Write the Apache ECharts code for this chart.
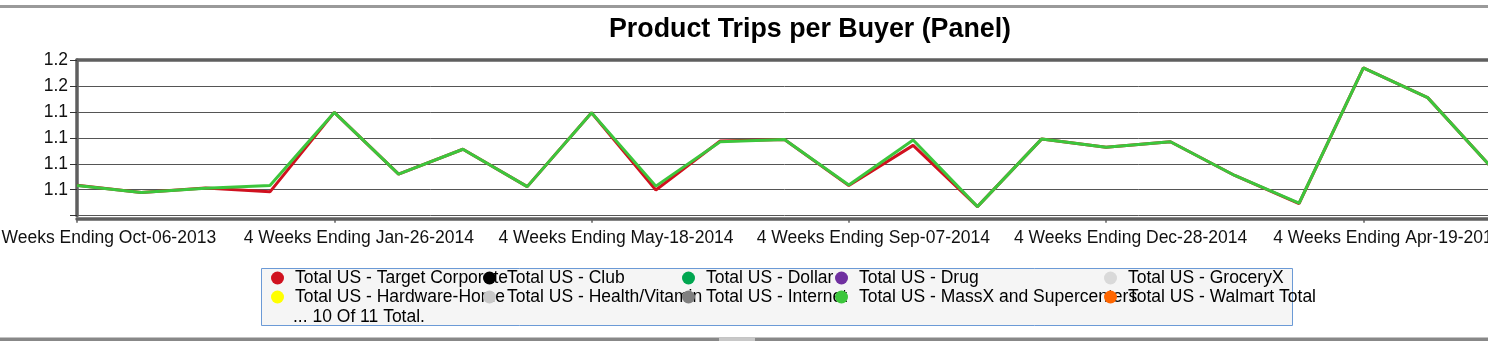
<!DOCTYPE html>
<html>
<head>
<meta charset="utf-8">
<title>Product Trips per Buyer (Panel)</title>
<script src="https://cdn.jsdelivr.net/npm/echarts@6/dist/echarts.min.js"></script>
<style>
  html, body { margin: 0; padding: 0; background: #ffffff; overflow: hidden; }
  #chart { width: 1620px; height: 341px; }
</style>
</head>
<body>
<div id="chart"></div>
<script>
// 4-week periods
const categories = [
  '4 Weeks Ending Oct-06-2013', '4 Weeks Ending Nov-03-2013', '4 Weeks Ending Dec-01-2013',
  '4 Weeks Ending Dec-29-2013', '4 Weeks Ending Jan-26-2014', '4 Weeks Ending Feb-23-2014',
  '4 Weeks Ending Mar-23-2014', '4 Weeks Ending Apr-20-2014', '4 Weeks Ending May-18-2014',
  '4 Weeks Ending Jun-15-2014', '4 Weeks Ending Jul-13-2014', '4 Weeks Ending Aug-10-2014',
  '4 Weeks Ending Sep-07-2014', '4 Weeks Ending Oct-05-2014', '4 Weeks Ending Nov-02-2014',
  '4 Weeks Ending Nov-30-2014', '4 Weeks Ending Dec-28-2014', '4 Weeks Ending Jan-25-2015',
  '4 Weeks Ending Feb-22-2015', '4 Weeks Ending Mar-22-2015', '4 Weeks Ending Apr-19-2015',
  '4 Weeks Ending May-17-2015', '4 Weeks Ending Jun-14-2015'
];

// Product trips per buyer
const targetCorporate = [
  1.1117, 1.1089, 1.1107, 1.1092, 1.1398, 1.1160, 1.1256, 1.1112, 1.1397, 1.1099, 1.1288, 1.1294,
  1.1116, 1.1271, 1.1035, 1.1296, 1.1264, 1.1285, 1.1155, 1.1047, 1.1570, 1.1455, 1.1184
];
const massXSupercenters = [
  1.1116, 1.1089, 1.1106, 1.1116, 1.1398, 1.1160, 1.1256, 1.1112, 1.1397, 1.1114, 1.1285, 1.1294,
  1.1118, 1.1292, 1.1035, 1.1296, 1.1264, 1.1285, 1.1155, 1.1048, 1.1570, 1.1455, 1.1184
];

// Value axis ticks 1.10 .. 1.16, shown with one decimal
const yTickValues = [1.10, 1.11, 1.12, 1.13, 1.14, 1.15, 1.16];
const yTickLabels = ['', '1.1', '1.1', '1.1', '1.1', '1.2', '1.2'];

// Legend entries in display order (column by column)
const seriesNames = [
  'Total US - Target Corporate', 'Total US - Hardware-Home',
  'Total US - Club', 'Total US - Health/Vitamin',
  'Total US - Dollar', 'Total US - Internet',
  'Total US - Drug', 'Total US - MassX and Supercenters',
  'Total US - GroceryX', 'Total US - Walmart Total'
];
const seriesColors = {
  'Total US - Target Corporate': '#d0111f',
  'Total US - Club': '#000000',
  'Total US - Dollar': '#00a650',
  'Total US - Drug': '#7030a0',
  'Total US - GroceryX': '#d9d9d9',
  'Total US - Hardware-Home': '#ffff00',
  'Total US - Health/Vitamin': '#c8c8c8',
  'Total US - Internet': '#808080',
  'Total US - MassX and Supercenters': '#3cc63c',
  'Total US - Walmart Total': '#ff6600'
};
const seriesData = {
  'Total US - Target Corporate': targetCorporate,
  'Total US - MassX and Supercenters': massXSupercenters
};
const legendFooter = '... 10 Of 11 Total.';
const legendColumnsX = [276, 488, 687, 840, 1109];

const FONT = '"Liberation Sans", Arial, Helvetica, sans-serif';
const chart = echarts.init(document.getElementById('chart'), null, { renderer: 'canvas' });

// series order: Target first so MassX is drawn over it
const drawOrder = [
  'Total US - Target Corporate', 'Total US - Club', 'Total US - Dollar', 'Total US - Drug',
  'Total US - GroceryX', 'Total US - Hardware-Home', 'Total US - Health/Vitamin',
  'Total US - Internet', 'Total US - MassX and Supercenters', 'Total US - Walmart Total'
];
const series = drawOrder.map(name => ({
  name: name,
  type: 'line',
  data: seriesData[name] || [],
  symbol: 'none',
  showSymbol: false,
  itemStyle: { color: seriesColors[name] },
  lineStyle: { color: seriesColors[name], width: 3 },
  emphasis: { disabled: true },
  silent: true
}));

const legends = legendColumnsX.map((cx, i) => ({
  orient: 'vertical',
  left: cx - 5,
  top: 268.5,
  padding: 0,
  itemGap: 0,
  itemWidth: 25,
  itemHeight: 13,
  icon: 'circle',
  selectedMode: false,
  data: [seriesNames[i * 2], seriesNames[i * 2 + 1]],
  textStyle: { fontFamily: FONT, fontSize: 17.5, color: '#000', lineHeight: 19, padding: 0 }
}));

chart.setOption({
  animation: false,
  backgroundColor: '#ffffff',
  title: {
    text: 'Product Trips per Buyer (Panel)',
    left: 'center',
    top: 16,
    padding: 0,
    textStyle: { fontFamily: FONT, fontSize: 26.8, fontWeight: 'bold', color: '#000' }
  },
  legend: legends,
  grid: { left: 77, top: 60, right: 128, bottom: 125.3, containLabel: false, outerBoundsMode: 'none' },
  xAxis: [
    {
      type: 'category',
      data: categories,
      boundaryGap: false,
      position: 'bottom',
      offset: 3,
      axisLine: { show: true, lineStyle: { color: '#5f5f5f', width: 3.5 } },
      axisTick: { show: true, interval: 3, length: 4, lineStyle: { color: '#5f5f5f', width: 1.5 } },
      axisLabel: {
        interval: 3,
        margin: 10,
        fontFamily: FONT,
        fontSize: 17.5,
        color: '#111',
        padding: [0, 0, 0, 49]
      },
      splitLine: { show: false }
    },
    {
      type: 'category',
      data: categories,
      boundaryGap: false,
      position: 'top',
      axisLine: { show: true, lineStyle: { color: '#5f5f5f', width: 3.5 } },
      axisTick: { show: false },
      axisLabel: { show: false },
      splitLine: { show: false }
    }
  ],
  yAxis: {
    type: 'value',
    min: yTickValues[0],
    max: yTickValues[yTickValues.length - 1],
    interval: 0.01,
    axisLine: { show: true, lineStyle: { color: '#5f5f5f', width: 3.5 } },
    axisTick: { show: true, length: 7, lineStyle: { color: '#333', width: 1 } },
    axisLabel: {
      margin: 9,
      fontFamily: FONT,
      fontSize: 17.5,
      color: '#111',
      formatter: function (v) {
        const idx = Math.round((v - yTickValues[0]) / 0.01);
        return yTickLabels[idx] !== undefined ? yTickLabels[idx] : '';
      }
    },
    splitLine: { show: true, lineStyle: { color: '#555', width: 1 } }
  },
  graphic: [
    // frame bars
    { type: 'rect', z: 0, shape: { x: 0, y: 5, width: 1620, height: 3 }, style: { fill: '#9a9a9a' } },
    { type: 'rect', z: 0, shape: { x: 0, y: 337.5, width: 1620, height: 4 }, style: { fill: '#888888' } },
    { type: 'rect', z: 1, shape: { x: 719, y: 337.5, width: 36, height: 4 }, style: { fill: '#c8c8c8' } },
    // legend box
    {
      type: 'rect', z: 0,
      shape: { x: 261.5, y: 268.5, width: 1031, height: 57 },
      style: { fill: '#f5f5f5', stroke: '#6b9ad6', lineWidth: 1 }
    },
    {
      type: 'text', z: 5,
      style: {
        x: 293, y: 317, text: legendFooter,
        font: '17.5px ' + FONT, fill: '#000',
        textVerticalAlign: 'middle', verticalAlign: 'middle'
      }
    }
  ],
  series: series
});
</script>
</body>
</html>
